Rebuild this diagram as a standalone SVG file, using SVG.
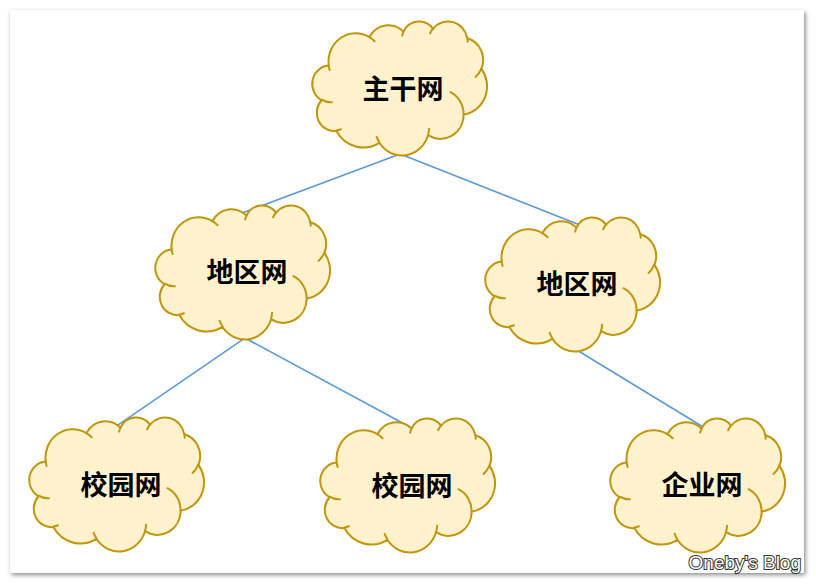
<svg xmlns="http://www.w3.org/2000/svg" xmlns:xlink="http://www.w3.org/1999/xlink" width="816" height="586" viewBox="0 0 816 586">
  <style>
    .cloud { fill: #fff2cc; stroke: #bf960c; stroke-width: 2; stroke-linejoin: round; }
    .crease { fill: none; stroke: #bf960c; stroke-width: 2; stroke-linecap: round; }
    .label { font-family: "Noto Sans CJK SC", "Noto Sans", sans-serif; font-size: 27px; font-weight: bold; fill: #000; text-anchor: middle; dominant-baseline: central; }
    .edge { stroke: #5b9bd5; stroke-width: 1.6; fill: none; }
    .mark { font-family: "Liberation Sans", Arial, sans-serif; font-size: 19px; fill: #fff; stroke: #333; stroke-width: 2; paint-order: stroke; text-anchor: end; }
  </style>
  <defs>
    <filter id="pageShadow" x="-5%" y="-5%" width="110%" height="110%">
      <feDropShadow dx="1.5" dy="2" stdDeviation="2.2" flood-color="#000" flood-opacity="0.45"/>
    </filter>
    <g id="cloudShape">
      <path class="cloud" d="M15.71,44.57 A27.2,28.51 0 0,1 56.41,16.14 A21.48,22.54 0 0,1 90.45,10.65 A17.58,18.44 0 0,1 120.16,7.69 A19.56,20.46 0 0,1 154.33,17.29 A21.48,22.56 0 0,1 168.43,47.95 A27.29,28.6 0 0,1 150.65,93.69 A23.3,24.4 0 0,1 115.02,114.19 A27.2,28.58 0 0,1 66.38,121.8 A31.09,32.7 0 0,1 23.38,110.03 A17.56,18.36 0 0,1 8.51,79.25 A17.5,18.44 0 0,1 15.71,44.57 Z"/>
      <path class="crease" d="M18.9,81.2 A17.5,18.44 0 0,1 8.7,78.72 M27.9,108.25 A17.56,18.36 0 0,1 23.44,109.43 M66.37,121.25 A27.2,28.58 0 0,1 63.67,115.85 M116.11,107.79 A27.2,28.58 0 0,1 115.04,113.71 M137.46,71.2 A23.3,24.4 0 0,1 150.56,93.33 M168.35,47.63 A21.48,22.56 0 0,1 162.52,55.93 M154.36,16.83 A19.56,20.46 0 0,1 154.67,20.75 M117.12,12.26 A19.56,20.46 0 0,1 120.11,7.26 M89.18,14.64 A17.58,18.44 0 0,1 90.63,10.33 M56.39,16.1 A27.2,28.51 0 0,1 61.62,20.29 M16.62,48.98 A27.2,28.51 0 0,1 15.71,44.57"/>
    </g>
  </defs>

  <rect x="0" y="0" width="816" height="586" fill="#ffffff"/>
  <rect x="10" y="10" width="794" height="563" fill="#ffffff" filter="url(#pageShadow)"/>

  <g id="connectors">
    <line class="edge" x1="409.4" y1="150.5" x2="235.6" y2="215.5"/>
    <line class="edge" x1="390.7" y1="150.3" x2="584.3" y2="226.7"/>
    <line class="edge" x1="253.2" y1="332.4" x2="109.8" y2="430.6"/>
    <line class="edge" x1="236.2" y1="333.3" x2="418.8" y2="431.7"/>
    <line class="edge" x1="566.5" y1="343.8" x2="708.5" y2="430.2"/>
  </g>

  <g id="node-backbone" transform="translate(313,21)">
    <use xlink:href="#cloudShape" href="#cloudShape"/>
    <text class="label" x="90" y="66">主干网</text>
  </g>
  <g id="node-region-left" transform="translate(156,205)">
    <use xlink:href="#cloudShape" href="#cloudShape"/>
    <text class="label" x="91" y="65">地区网</text>
  </g>
  <g id="node-region-right" transform="translate(486,217)">
    <use xlink:href="#cloudShape" href="#cloudShape"/>
    <text class="label" x="91" y="65">地区网</text>
  </g>
  <g id="node-campus-left" transform="translate(30,417)">
    <use xlink:href="#cloudShape" href="#cloudShape"/>
    <text class="label" x="91" y="66">校园网</text>
  </g>
  <g id="node-campus-mid" transform="translate(321,418)">
    <use xlink:href="#cloudShape" href="#cloudShape"/>
    <text class="label" x="91" y="66">校园网</text>
  </g>
  <g id="node-enterprise" transform="translate(611,418)">
    <use xlink:href="#cloudShape" href="#cloudShape"/>
    <text class="label" x="91" y="65">企业网</text>
  </g>

  <text class="mark" x="801" y="569">Oneby's Blog</text>
</svg>
